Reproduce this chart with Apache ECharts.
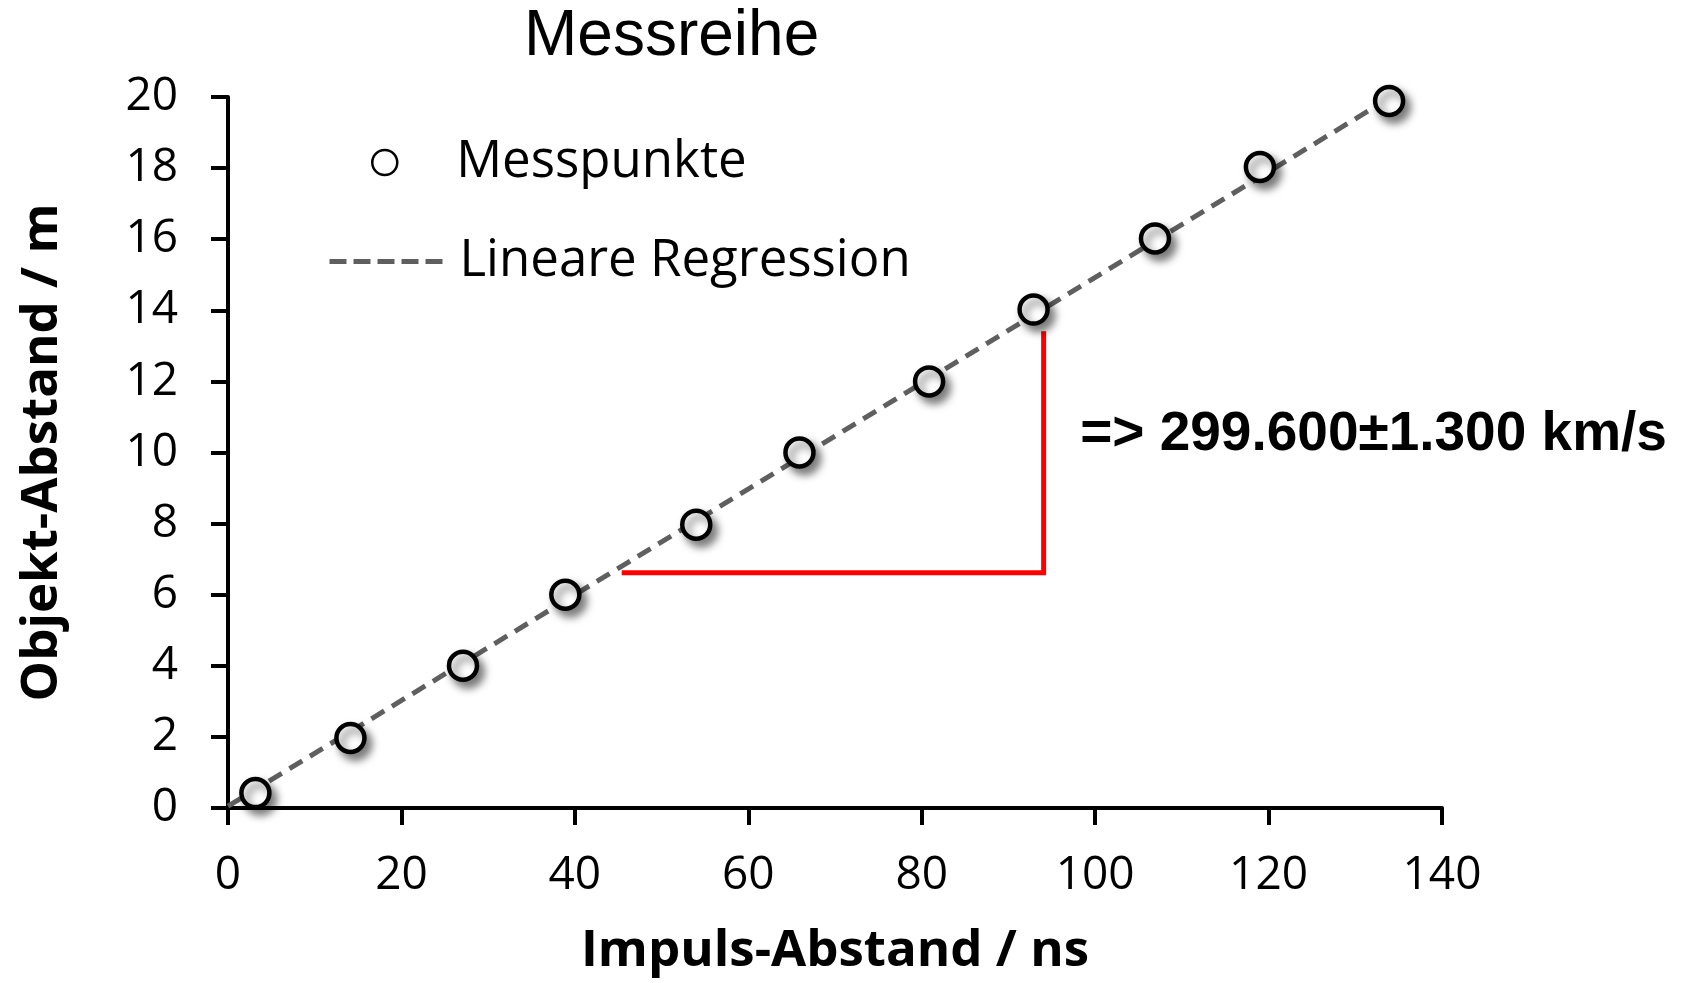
<!DOCTYPE html>
<html>
<head>
<meta charset="utf-8">
<script src="https://cdn.jsdelivr.net/npm/echarts@6/dist/echarts.min.js"></script>
<style>
  html, body { margin: 0; padding: 0; background: #ffffff; }
  #chart { width: 1690px; height: 983px; }
</style>
</head>
<body>
<div id="chart"></div>
<script>
// ---- data ----
const titleText = 'Messreihe';
const xAxisName = 'Impuls-Abstand / ns';
const yAxisName = 'Objekt-Abstand / m';
const seriesPointsName = 'Messpunkte';
const seriesFitName = 'Lineare Regression';

// measured points: pulse distance (ns) and object distance (m)
const pulseNs = [3.16, 14.12, 27.1, 38.9, 54.0, 65.9, 80.85, 92.9, 106.9, 119.0, 133.9];
const distanceM = [0.42, 1.97, 4.0, 6.0, 7.97, 10.0, 12.0, 14.02, 16.02, 18.03, 19.89];

// regression line end points
const fitX = [0, 134.0];
const fitY = [0.05, 19.98];

// red slope triangle
const slopeX = [45.4, 94.06, 94.06];
const slopeY = [6.62, 6.62, 13.41];

// annotation
const resultText = '=> 299.600\u00B11.300 km/s';
const resultAnchor = [98.27, 10.49];

// axis ranges
const xMin = 0, xMax = 140, xStep = 20;
const yMin = 0, yMax = 20, yStep = 2;

// ---- build chart ----
const pointData = pulseNs.map((x, i) => [x, distanceM[i]]);
const fitData = fitX.map((x, i) => [x, fitY[i]]);
const slopeData = slopeX.map((x, i) => [x, slopeY[i]]);

const tickFont = { fontFamily: 'Open Sans', fontSize: 46, color: '#000' };
const nameFont = { fontFamily: 'Open Sans', fontSize: 51, fontWeight: 'bold', color: '#000' };
const legendFont = { fontFamily: 'Open Sans', fontSize: 51, color: '#000', lineHeight: 50, padding: [0, 0, 0, 8] };

const chart = echarts.init(document.getElementById('chart'), null, { renderer: 'canvas' });
chart.setOption({
  animation: false,
  backgroundColor: '#ffffff',
  title: {
    text: titleText,
    left: 524,
    top: 5,
    padding: 0,
    textStyle: { fontFamily: 'Liberation Sans', fontSize: 64, fontWeight: 'normal', color: '#000' }
  },
  grid: { left: 228, right: 248, top: 97, bottom: 175, containLabel: false },
  legend: [
    {
      data: [{
        name: seriesPointsName,
        icon: 'circle',
        itemStyle: { color: '#fff', borderColor: '#000', borderWidth: 2.5, opacity: 1, shadowBlur: 0, shadowColor: 'rgba(0,0,0,0)', shadowOffsetX: 0, shadowOffsetY: 0 }
      }],
      left: 371, top: 137, padding: 0,
      itemWidth: 117, itemHeight: 25,
      selectedMode: false,
      textStyle: legendFont
    },
    {
      data: [{
        name: seriesFitName,
        itemStyle: { color: 'rgba(0,0,0,0)', borderWidth: 0, opacity: 0 }
      }],
      left: 327, top: 236, padding: 0,
      itemWidth: 117, itemHeight: 14,
      selectedMode: false,
      lineStyle: { color: '#5f5f5f', width: 5, type: [17, 7], opacity: 1 },
      textStyle: legendFont
    }
  ],
  xAxis: {
    type: 'value', min: xMin, max: xMax, interval: xStep,
    name: xAxisName, nameLocation: 'middle', nameGap: 118,
    nameTextStyle: nameFont,
    axisLine: { show: true, lineStyle: { color: '#000', width: 4 } },
    axisTick: { show: true, inside: false, length: 17, lineStyle: { color: '#000', width: 4 } },
    axisLabel: Object.assign({ margin: 45 }, tickFont),
    splitLine: { show: false }
  },
  yAxis: {
    type: 'value', min: yMin, max: yMax, interval: yStep,
    name: yAxisName, nameLocation: 'middle', nameGap: 160,
    nameTextStyle: nameFont,
    axisLine: { show: true, lineStyle: { color: '#000', width: 4 } },
    axisTick: { show: true, inside: false, length: 17, lineStyle: { color: '#000', width: 4 } },
    axisLabel: Object.assign({ margin: 50 }, tickFont),
    splitLine: { show: false }
  },
  series: [
    {
      name: seriesFitName,
      type: 'line',
      data: fitData,
      symbol: 'none',
      showSymbol: false,
      z: 2,
      lineStyle: { color: '#5f5f5f', width: 5, type: [15, 9] },
      itemStyle: { color: '#5f5f5f' },
      silent: true
    },
    {
      name: 'Steigung',
      type: 'line',
      data: slopeData,
      symbol: 'none',
      showSymbol: false,
      z: 3,
      lineStyle: { color: '#ff0000', width: 5, join: 'miter' },
      silent: true
    },
    {
      name: seriesPointsName,
      type: 'scatter',
      data: pointData,
      symbol: 'circle',
      symbolSize: 28,
      z: 5,
      itemStyle: {
        color: '#ffffff', borderColor: '#000000', borderWidth: 4.5, opacity: 1,
        shadowBlur: 9, shadowColor: 'rgba(0,0,0,0.5)', shadowOffsetX: 5, shadowOffsetY: 6
      },
      silent: true
    },
    {
      name: 'Ergebnis',
      type: 'scatter',
      data: [resultAnchor],
      symbolSize: 0,
      z: 6,
      silent: true,
      itemStyle: { opacity: 1 },
      label: {
        show: true,
        position: 'right',
        distance: 0,
        formatter: resultText,
        fontFamily: 'Liberation Sans',
        fontWeight: 'bold',
        fontSize: 55,
        color: '#000',
        opacity: 1
      }
    }
  ]
});
</script>
</body>
</html>
